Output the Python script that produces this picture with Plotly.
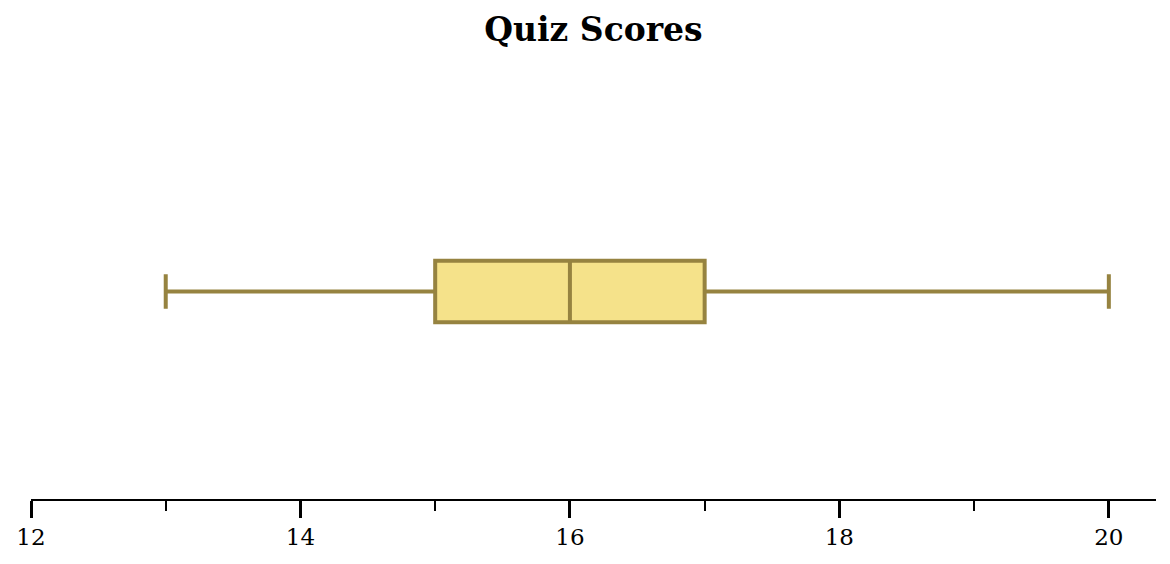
import plotly.graph_objects as go

categories = ["Quiz Scores"]
lower_fence = [13]
q1_values = [15]
median_values = [16]
q3_values = [17]
upper_fence = [20]

tick_values = [12, 14, 16, 18, 20]
tick_labels = ["12", "14", "16", "18", "20"]
minor_tick_values = [13, 15, 17, 19]

fig = go.Figure()
fig.add_trace(go.Box(
    y=[0],
    lowerfence=lower_fence,
    q1=q1_values,
    median=median_values,
    q3=q3_values,
    upperfence=upper_fence,
    orientation="h",
    name=categories[0],
    fillcolor="#F5E28A",
    line=dict(color="#968340", width=4),
    width=0.148,
    whiskerwidth=0.56,
    boxpoints=False,
    hoverinfo="skip",
    showlegend=False,
))

fig.update_layout(
    width=1154,
    height=548,
    paper_bgcolor="white",
    plot_bgcolor="white",
    margin=dict(l=23, r=6, t=76, b=52),
    font=dict(family="DejaVu Serif", color="black"),
    title=dict(
        text="<b>Quiz Scores</b>",
        x=0.5,
        xref="paper",
        xanchor="center",
        y=0.96,
        yanchor="middle",
        font=dict(family="DejaVu Serif", size=33, color="black"),
    ),
    xaxis=dict(
        range=[12, 20.35],
        tickmode="array",
        tickvals=tick_values,
        ticktext=tick_labels,
        ticks="outside",
        ticklen=17,
        tickwidth=2.5,
        tickcolor="black",
        showline=True,
        linecolor="black",
        linewidth=1.5,
        showgrid=False,
        zeroline=False,
        tickfont=dict(family="DejaVu Serif", size=23, color="black"),
        minor=dict(tickvals=minor_tick_values, ticks="outside", ticklen=10,
                   tickwidth=1.5, tickcolor="black", showgrid=False),
    ),
    yaxis=dict(
        range=[-0.5, 0.5],
        visible=False,
        showgrid=False,
        zeroline=False,
    ),
)

fig.write_html("out.html")
